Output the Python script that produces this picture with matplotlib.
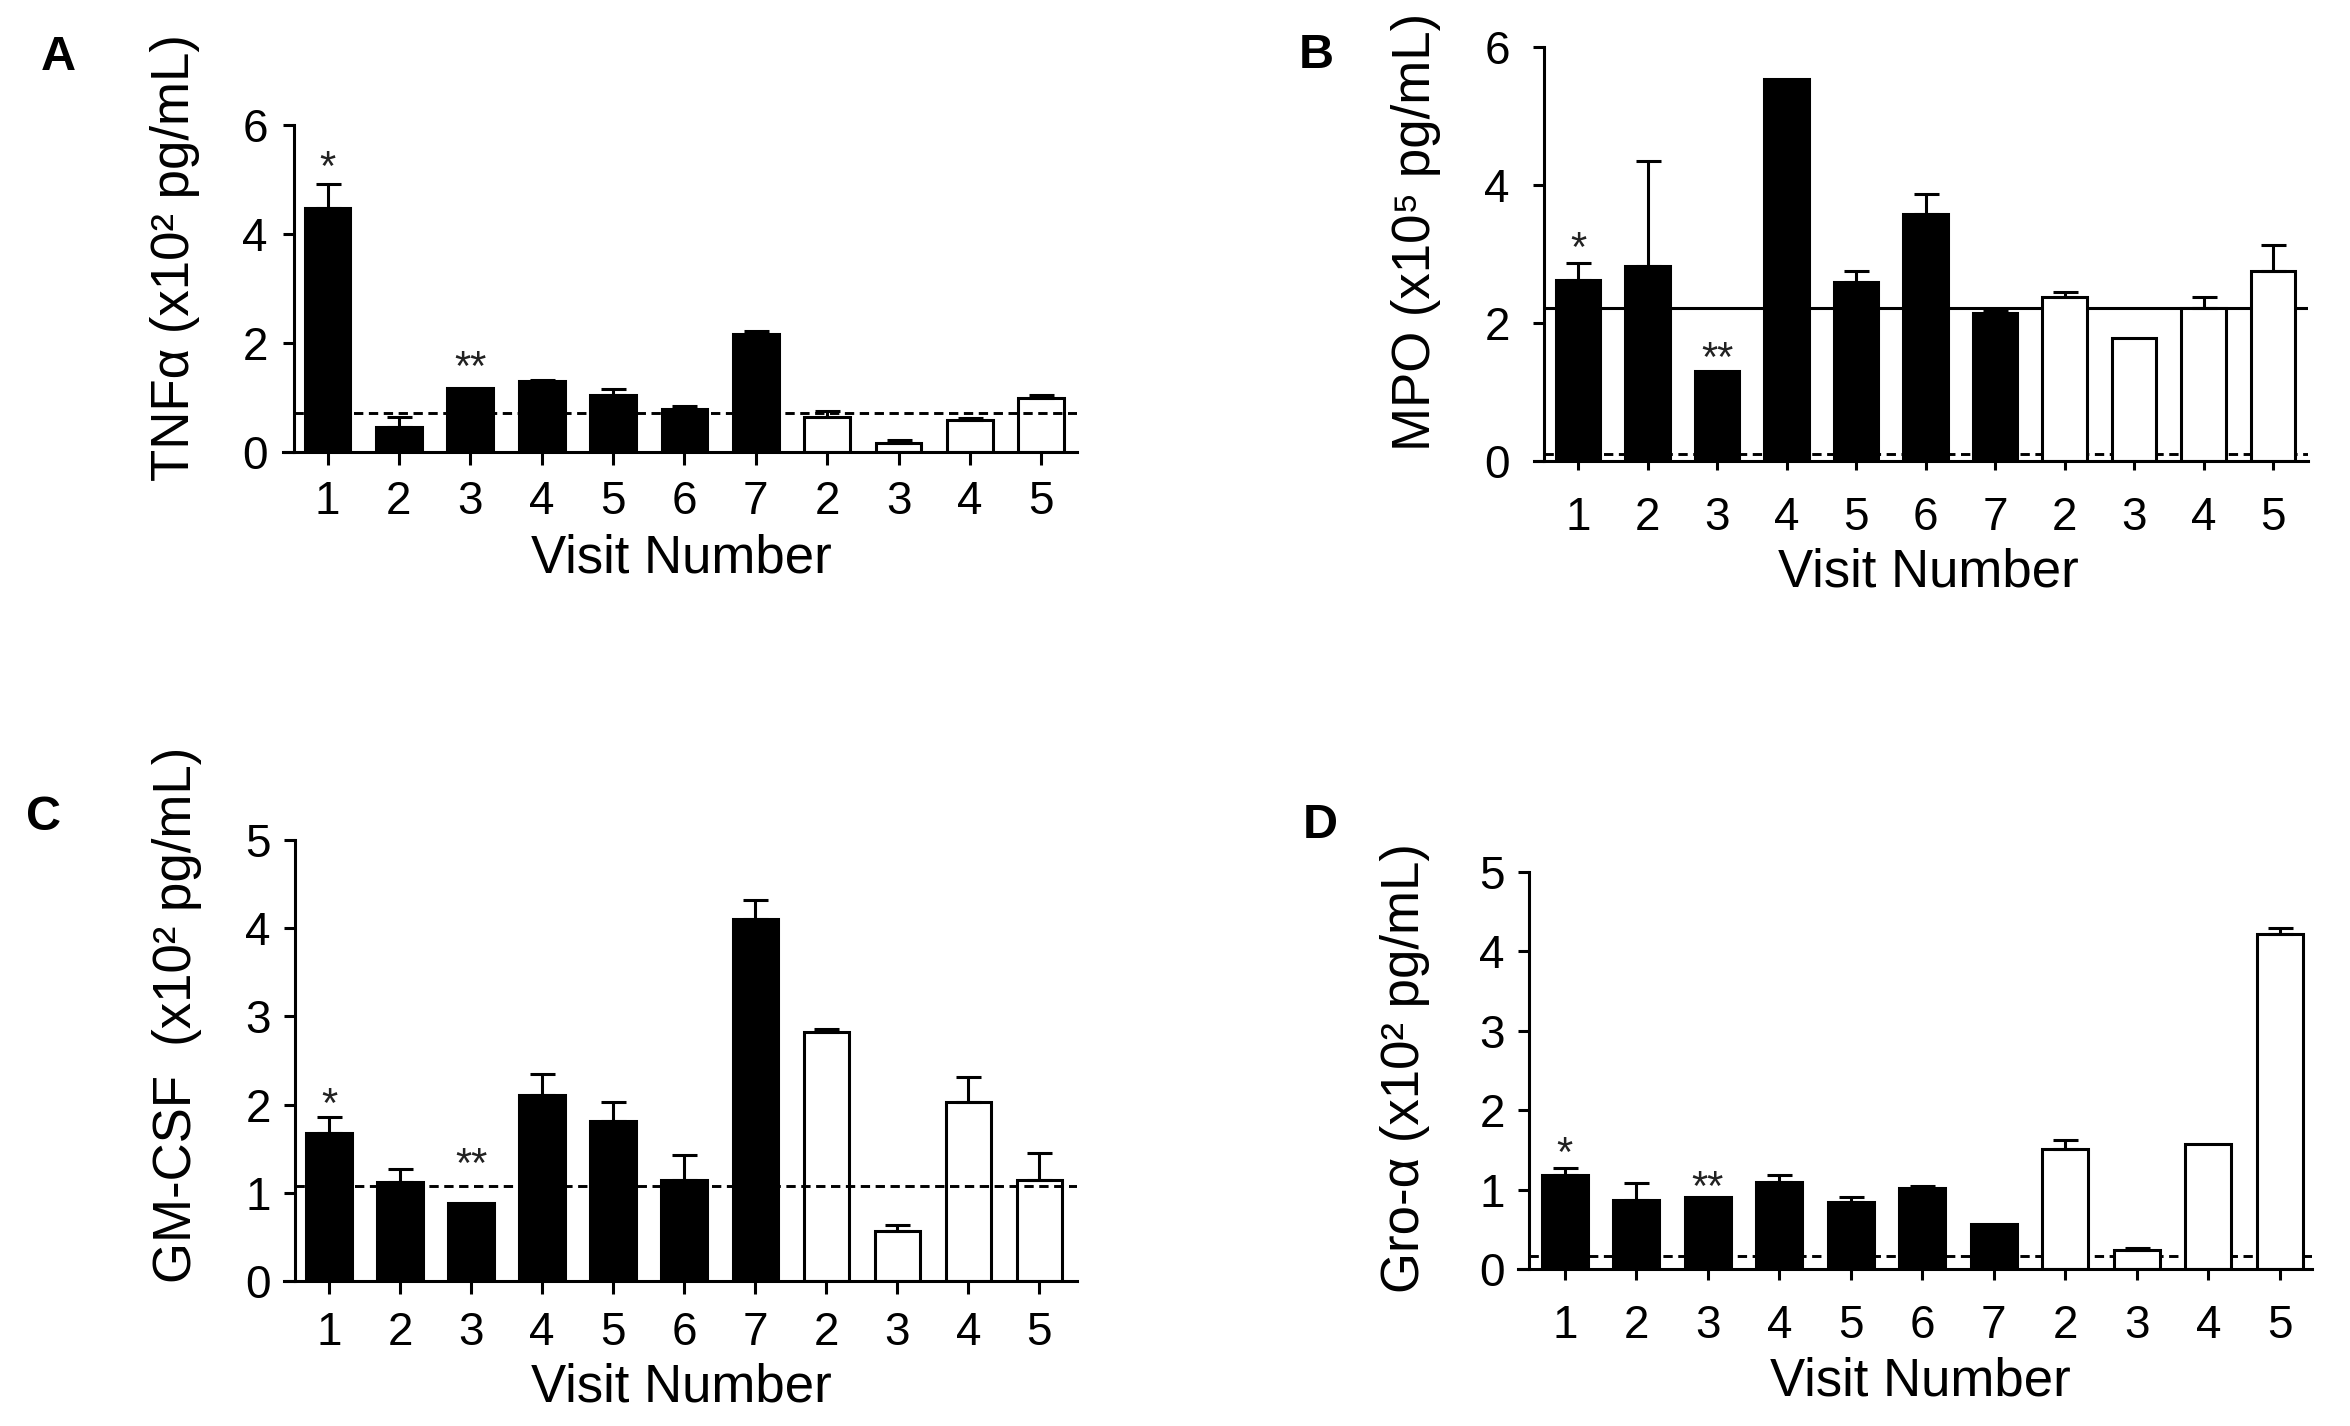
import matplotlib
matplotlib.use("Agg")
import matplotlib.pyplot as plt
import numpy as np

plt.rcParams["font.family"] = ["Liberation Sans", "DejaVu Sans"]

W, H, DPI = 2350, 1426, 100

# ---- data ----
visit_labels = ["1", "2", "3", "4", "5", "6", "7", "2", "3", "4", "5"]
n_filled = 7  # first 7 bars black, the rest open

tnf_mean = [4.48, 0.46, 1.17, 1.30, 1.04, 0.78, 2.17, 0.65, 0.17, 0.58, 1.00]
tnf_sem = [0.43, 0.19, 0.00, 0.03, 0.12, 0.07, 0.05, 0.10, 0.05, 0.05, 0.04]
tnf_ref = 0.72

mpo_mean = [2.63, 2.82, 1.31, 5.53, 2.60, 3.58, 2.15, 2.37, 1.78, 2.22, 2.76]
mpo_sem = [0.24, 1.53, 0.00, 0.00, 0.15, 0.29, 0.04, 0.08, 0.00, 0.16, 0.37]
mpo_ref = 2.22
mpo_ref_low = 0.10

gmcsf_mean = [1.68, 1.12, 0.88, 2.11, 1.81, 1.14, 4.10, 2.82, 0.57, 2.03, 1.15]
gmcsf_sem = [0.18, 0.15, 0.00, 0.24, 0.22, 0.29, 0.22, 0.04, 0.06, 0.28, 0.30]
gmcsf_ref = 1.08

gro_mean = [1.19, 0.87, 0.91, 1.10, 0.84, 1.02, 0.57, 1.51, 0.24, 1.58, 4.22]
gro_sem = [0.08, 0.21, 0.00, 0.08, 0.07, 0.02, 0.00, 0.12, 0.02, 0.00, 0.07]
gro_ref = 0.17

# ---- layout (pixels) ----
panels = [
    dict(letter="A", mean=tnf_mean, sem=tnf_sem, ylabel="TNF\u03b1 (x10\u00b2 pg/mL)",
         rect=(294, 125, 1077, 452), xlim=(-0.47, 10.5), ylim=6, yticks=[0, 2, 4, 6],
         lines=[(tnf_ref, "--", 3)], letter_xy=(58, 58), ylab_xy=(175, 258), xlab_xy=(681, 558),
         xtl=9.4, xpad=10.8, ytl=8, ypad=10.8, stars=(5.38, 1.70)),
    dict(letter="B", mean=mpo_mean, sem=mpo_sem, ylabel="MPO (x10\u2075 pg/mL)",
         rect=(1544, 47, 2308, 461), xlim=(-0.49, 10.5), ylim=6, yticks=[0, 2, 4, 6],
         lines=[(mpo_ref, "-", 1), (mpo_ref_low, "--", 1)], letter_xy=(1316, 56),
         ylab_xy=(1416, 232), xlab_xy=(1928, 572),
         xtl=6.5, xpad=19, ytl=8, ypad=16.5, stars=(3.2, 1.61)),
    dict(letter="C", mean=gmcsf_mean, sem=gmcsf_sem, ylabel="GM-CSF  (x10\u00b2 pg/mL)",
         rect=(295, 840, 1077, 1281), xlim=(-0.48, 10.53), ylim=5, yticks=[0, 1, 2, 3, 4, 5],
         lines=[(gmcsf_ref, "--", 3)], letter_xy=(43, 817), ylab_xy=(177, 1015), xlab_xy=(681, 1388),
         xtl=9.4, xpad=12, ytl=8, ypad=9.4, stars=(2.1, 1.41)),
    dict(letter="D", mean=gro_mean, sem=gro_sem, ylabel="Gro-\u03b1 (x10\u00b2 pg/mL)",
         rect=(1529, 872, 2312, 1269), xlim=(-0.5, 10.45), ylim=5, yticks=[0, 1, 2, 3, 4, 5],
         lines=[(gro_ref, "--", 1)], letter_xy=(1320, 826), ylab_xy=(1405, 1068), xlab_xy=(1920, 1382),
         xtl=8, xpad=17, ytl=8, ypad=9.4, stars=(1.56, 1.13)),
]

LW = 2.2
fig = plt.figure(figsize=(W / DPI, H / DPI), dpi=DPI)

for p in panels:
    l, t, r, b = p["rect"]
    ax = fig.add_axes([l / W, 1 - b / H, (r - l) / W, (b - t) / H])
    x = np.arange(len(visit_labels))
    mean = np.array(p["mean"])
    sem = np.array(p["sem"])
    colors = ["black"] * n_filled + ["white"] * (len(x) - n_filled)
    ax.bar(x, mean, width=0.64, color=colors, edgecolor="black", linewidth=LW, zorder=2)
    has = sem > 0
    ax.errorbar(x[has], mean[has], yerr=[np.zeros(has.sum()), sem[has]], fmt="none",
                ecolor="black", elinewidth=LW, capsize=9, capthick=LW, zorder=2)
    for level, ls, z in p["lines"]:
        if ls == "--":
            ax.axhline(level, color="black", lw=2.1, dashes=(3.2, 1.9), zorder=z)
        else:
            ax.axhline(level, color="black", lw=LW, zorder=z)

    # significance marks over visit 1 (*) and visit 3 (**)
    for xi, txt, yv in [(0, "*", p["stars"][0]), (2, "**", p["stars"][1])]:
        ax.annotate(txt, xy=(xi, yv), xytext=(0, -15), textcoords="offset points",
                    ha="center", va="baseline", fontsize=30, color="#222222")

    ax.set_xlim(*p["xlim"])
    ax.set_ylim(0, p["ylim"])
    ax.set_yticks(p["yticks"])
    ax.set_xticks(x)
    ax.set_xticklabels(visit_labels)
    for s in ("top", "right"):
        ax.spines[s].set_visible(False)
    for s in ("left", "bottom"):
        ax.spines[s].set_linewidth(LW)
    ax.spines["left"].set_bounds(0, p["ylim"])
    ax.spines["bottom"].set_bounds(p["xlim"][0] - 0.15, p["xlim"][1])
    ax.tick_params(axis="x", length=p["xtl"], width=LW, pad=p["xpad"], labelsize=33)
    ax.tick_params(axis="y", length=p["ytl"], width=LW, pad=p["ypad"], labelsize=33)

    ax.set_ylabel(p["ylabel"], fontsize=38, ha="center", va="center")
    ax.yaxis.set_label_coords((p["ylab_xy"][0] - l) / (r - l), (b - p["ylab_xy"][1]) / (b - t))
    ax.set_xlabel("Visit Number", fontsize=38, ha="center", va="center")
    ax.xaxis.set_label_coords((p["xlab_xy"][0] - l) / (r - l), (b - p["xlab_xy"][1]) / (b - t))

    fig.text(p["letter_xy"][0] / W, 1 - p["letter_xy"][1] / H, p["letter"],
             fontsize=35, fontweight="bold", ha="center", va="center")

fig.savefig("out.png", dpi=DPI)
